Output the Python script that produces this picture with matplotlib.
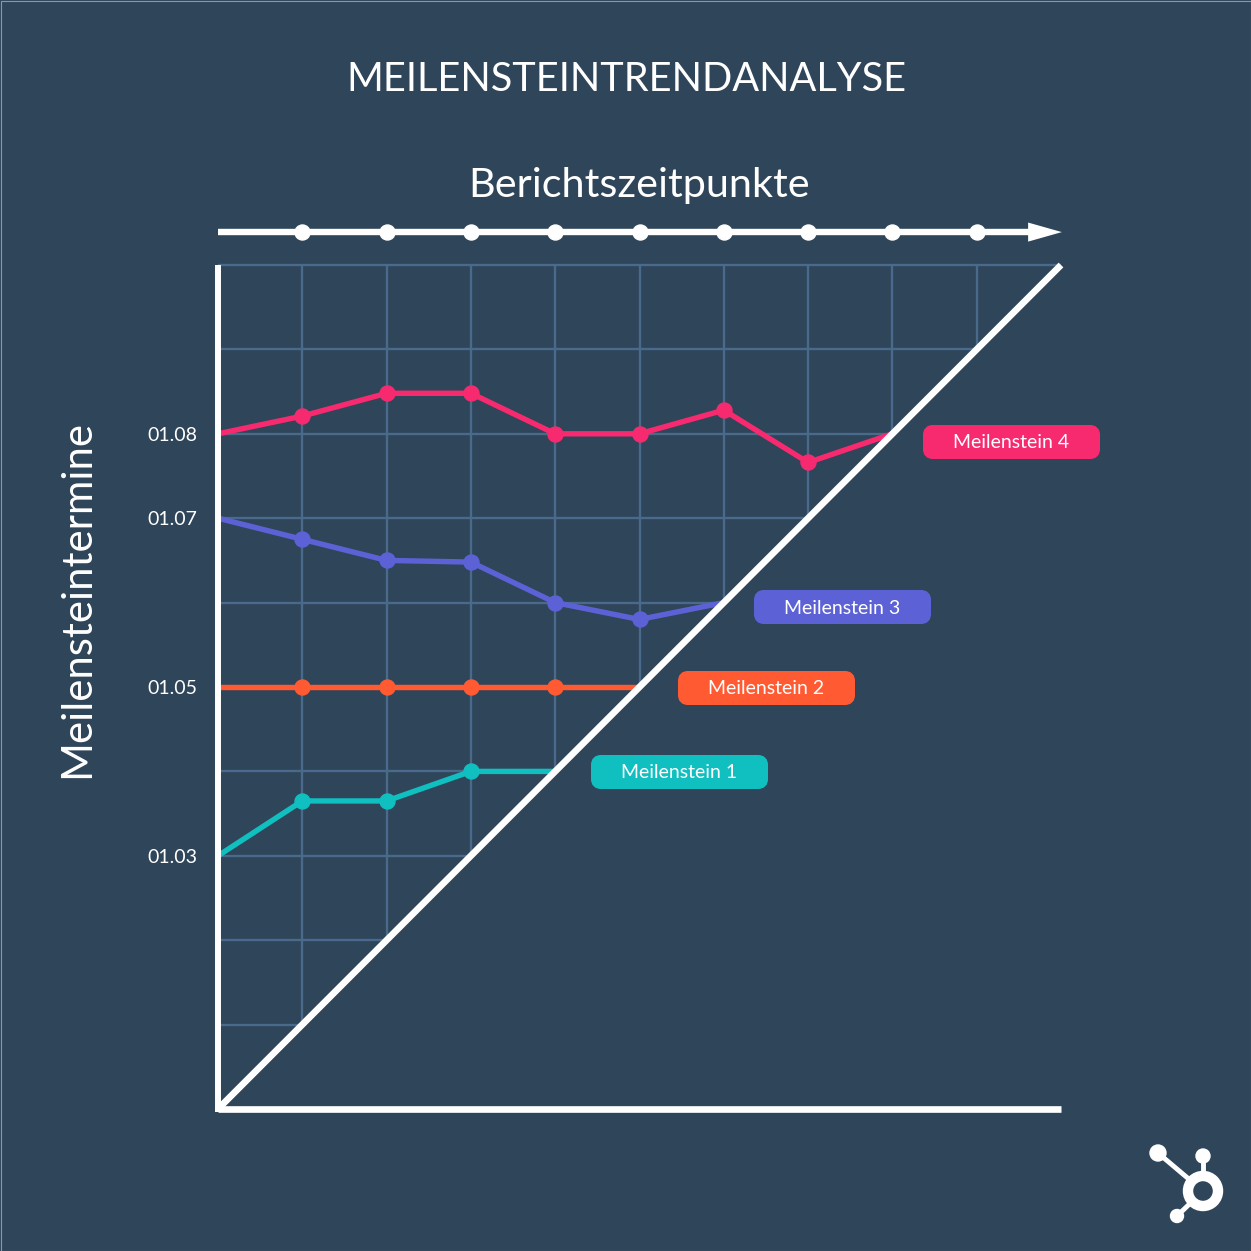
import matplotlib.pyplot as plt
import matplotlib.patches as patches

plt.rcParams["font.family"] = ["Lato", "DejaVu Sans"]

BG = "#2f4559"
GRID = "#4a6a8c"

title = "MEILENSTEINTRENDANALYSE"
x_title = "Berichtszeitpunkte"
y_title = "Meilensteintermine"

# months on the y axis, one grid cell per month
y_ticks = [3, 5, 7, 8]
y_ticklabels = ["01.03", "01.05", "01.07", "01.08"]
report_points = [1, 2, 3, 4, 5, 6, 7, 8, 9]

m1_vals = [3, 3.65, 3.65, 4, 4]
m2_vals = [5, 5, 5, 5, 5, 5]
m3_vals = [7, 6.75, 6.5, 6.48, 6, 5.8, 6]
m4_vals = [8, 8.21, 8.48, 8.48, 8, 8, 8.28, 7.66, 8]

series_names = ["Meilenstein 1", "Meilenstein 2", "Meilenstein 3", "Meilenstein 4"]
series_vals = [m1_vals, m2_vals, m3_vals, m4_vals]
colors = ["#10bfbf", "#ff5a32", "#5c62d6", "#f72a6f"]


def main():
    W = 1251
    fig = plt.figure(figsize=(W / 100, W / 100), dpi=100, facecolor=BG)

    # pixel layer for the pills, logo and frame
    px = fig.add_axes([0, 0, 1, 1], zorder=3)
    px.set_xlim(0, W)
    px.set_ylim(W, 0)
    px.axis("off")

    # main chart, 0..10 on both axes
    ax = fig.add_axes(
        [218 / W, (W - 1109) / W, 843 / W, 844 / W], facecolor="none", zorder=2
    )
    ax.set_xlim(0, 10)
    ax.set_ylim(0, 10)

    for spine in ["top", "right"]:
        ax.spines[spine].set_visible(False)
    for spine in ["left", "bottom"]:
        ax.spines[spine].set_color("white")
        ax.spines[spine].set_capstyle("butt")
        ax.spines[spine].set_zorder(6)
    ax.spines["left"].set_linewidth(4.3)
    ax.spines["bottom"].set_linewidth(4.8)

    ax.set_xticks([])
    ax.set_yticks(y_ticks)
    ax.set_yticklabels(y_ticklabels)
    ax.tick_params(axis="y", length=0, pad=15, labelsize=14, labelcolor="white")

    # grid stops at the diagonal
    for i in range(1, 11):
        ax.hlines(i, 0, i, color=GRID, linewidth=1.7, zorder=1, clip_on=False)
        if i < 10:
            ax.vlines(i, i, 10, color=GRID, linewidth=1.7, zorder=1, clip_on=False)

    ax.plot([0, 10], [0, 10], color="white", linewidth=4.8, zorder=5,
            solid_capstyle="butt", clip_on=False)
    # square off the corner where the two axes meet
    ax.plot([0], [0], "s", color="white", markersize=4.6, markeredgewidth=0,
            zorder=6, clip_on=False)

    # time arrow above the chart
    arrow_y = 10.39
    ax.plot([0, 9.7], [arrow_y, arrow_y], color="white", linewidth=4.6, clip_on=False,
            solid_capstyle="butt")
    ax.plot(report_points, [arrow_y] * len(report_points), "o", color="white",
            markersize=10.8, clip_on=False)
    ax.add_patch(patches.Polygon(
        [(9.61, arrow_y + 0.113), (10.01, arrow_y), (9.61, arrow_y - 0.113)],
        color="white", clip_on=False, linewidth=0))

    # milestone lines, first and last point have no dot
    for vals, color in zip(series_vals, colors):
        xs = list(range(len(vals)))
        ax.plot(xs, vals, color=color, linewidth=3.9, zorder=4, clip_on=False,
                solid_joinstyle="round", solid_capstyle="butt")
        ax.plot(xs[1:-1], vals[1:-1], "o", color=color, markersize=10.8, zorder=4,
                clip_on=False)

    fig.text(626 / W, 1 - 91 / W, title, color="white", fontsize=28.6,
             ha="center", va="baseline")
    fig.text(639 / W, 1 - 197 / W, x_title, color="white", fontsize=29.8,
             ha="center", va="baseline")
    fig.text(77 / W, 1 - 599 / W, y_title, color="white", fontsize=30.2,
             rotation=90, ha="center", va="center")

    # milestone name pills
    pill_left = [591, 678, 754, 923]
    pill_mid = [772, 688, 607, 442]
    for name, color, left, mid in zip(series_names, colors, pill_left, pill_mid):
        px.add_patch(patches.FancyBboxPatch(
            (left + 5, mid - 12), 167, 24, boxstyle="round,pad=0,rounding_size=5",
            facecolor=color, edgecolor=color, linewidth=7.2))
        px.text(left + 88.5, mid + 1, name, color="white", fontsize=14,
                ha="center", va="center")

    # logo
    px.plot([1158, 1203], [1153, 1191], color="white", linewidth=3.5, zorder=2)
    px.plot([1203, 1203], [1156, 1191], color="white", linewidth=3.5, zorder=2)
    px.plot([1177, 1203], [1216, 1191], color="white", linewidth=3.5, zorder=2)
    for cx, cy, r in [(1158, 1153, 8), (1203, 1156, 7), (1177, 1216, 6.5)]:
        px.add_patch(patches.Circle((cx, cy), r, color="white", zorder=2))
    px.add_patch(patches.Circle((1203, 1191), 15, facecolor=BG, edgecolor="white",
                                linewidth=7.5, zorder=3))

    # thin lighter frame
    px.add_patch(patches.Rectangle((0.5, 0.5), W - 1, W - 1, fill=False,
                                   edgecolor="#8a99a6", linewidth=0.8))

    fig.savefig("out.png", dpi=100, facecolor=BG)


main()
